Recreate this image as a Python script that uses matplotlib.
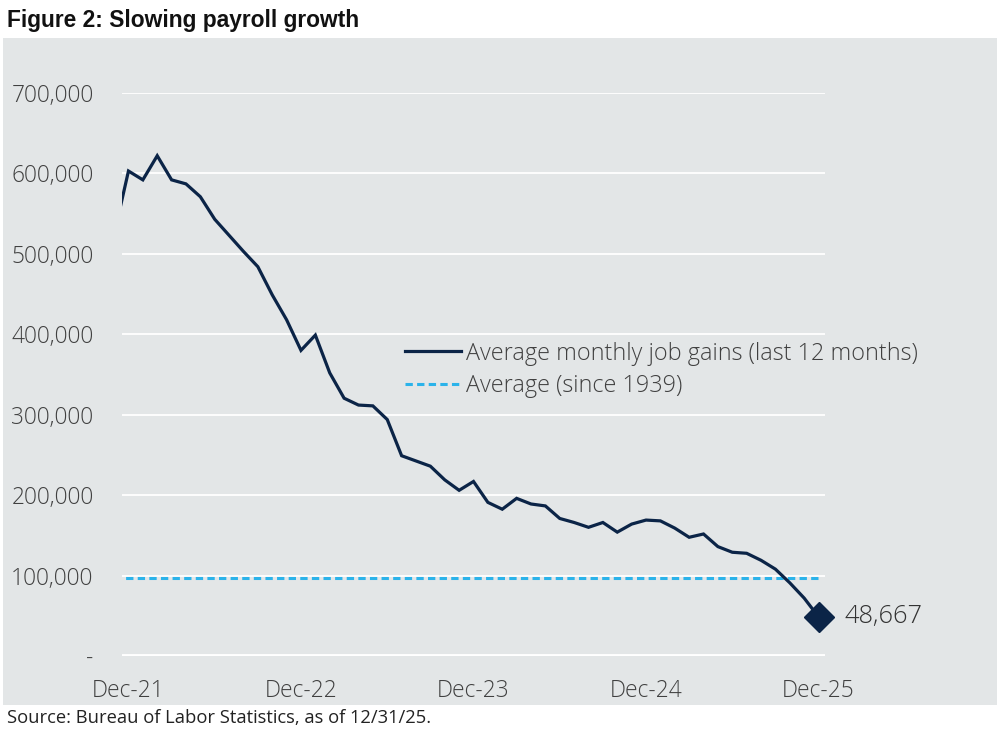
import numpy as np
import matplotlib
matplotlib.use("Agg")
import matplotlib.pyplot as plt
from matplotlib.patches import Rectangle
from matplotlib.ticker import FuncFormatter

# 12-month average of monthly payroll gains, Nov-21 .. Dec-25 (first point falls off the left edge)
job_gains = [524000, 603000, 592000, 622000, 592000, 587000, 571000, 543000, 523000, 503000,
             484000, 449000, 418000, 380000, 399000, 352000, 320500, 312000, 311000, 294000,
             249000, 242500, 236000, 219000, 206000, 217000, 191000, 182500, 196000, 189000,
             186600, 171000, 166000, 160000, 166000, 154000, 164000, 169000, 168000, 159000,
             147600, 151700, 136000, 129000, 127700, 119000, 108000, 91000, 72000, 48667]
long_run_avg = 97000
tick_labels = ["Dec-21", "Dec-22", "Dec-23", "Dec-24", "Dec-25"]
y_ticks = [0, 100000, 200000, 300000, 400000, 500000, 600000, 700000]

navy = "#0b2447"
sky = "#2bb3ea"
panel = "#e3e6e7"
grey_txt = "#404040"

x = np.arange(len(job_gains)) - 1  # index 0 = Dec-21

fig = plt.figure(figsize=(10, 7.31), dpi=100)
fig.patches.append(Rectangle((0.003, 1 - 705 / 731), 0.994, (705 - 38) / 731,
                             transform=fig.transFigure, facecolor=panel, edgecolor="none", zorder=-5))

ax = fig.add_axes([0.122, 75 / 731, 0.703, 563 / 731])
ax.set_facecolor("none")

ax.plot(x, job_gains, color=navy, lw=2.3, solid_joinstyle="miter", zorder=4,
        label="Average monthly job gains (last 12 months)")
ax.plot(x, [long_run_avg] * len(x), color=sky, lw=2.2, dashes=(2.4, 1.4), zorder=3,
        label="Average (since 1939)")
ax.plot(x[-1], job_gains[-1], marker="D", ms=15, color=navy, zorder=5, clip_on=False)
ax.annotate(f"{job_gains[-1]:,}", (x[-1], job_gains[-1]), xytext=(19, 0), textcoords="offset points",
            va="center", ha="left", fontsize=18.4, color="#333333", family="Open Sans", fontweight="light",
            annotation_clip=False)

ax.set_xlim(-0.45, 48.45)
ax.set_ylim(0, 700000)
ax.set_yticks(y_ticks)
ax.yaxis.set_major_formatter(FuncFormatter(lambda v, p: "-" if v == 0 else f"{v:,.0f}"))
ax.set_xticks(np.arange(0, 49, 12))
ax.set_xticklabels(tick_labels)

ax.grid(axis="y", color="white", lw=1.3, zorder=1)
ax.axhline(0, color="white", lw=3.5, zorder=2)
for s in ax.spines.values():
    s.set_visible(False)
ax.tick_params(length=0, labelsize=16.4, labelcolor=grey_txt)
ax.tick_params(axis="y", pad=20.5)
ax.tick_params(axis="x", pad=16.5)
for lab in ax.get_xticklabels() + ax.get_yticklabels():
    lab.set_family("Open Sans")
    lab.set_fontweight("light")

leg = ax.legend(loc="center left", bbox_to_anchor=((405 - 122) / 703, (656 - 370) / 563),
                frameon=False, borderpad=0, borderaxespad=0, handlelength=2.4, handletextpad=0.22,
                labelspacing=0.38, prop={"family": "Open Sans", "weight": "light", "size": 16.8})
for t in leg.get_texts():
    t.set_color(grey_txt)

fig.text(0.007, 1 - 20 / 731, "Figure 2: Slowing payroll growth", fontsize=16.4, fontweight="bold",
         family="Liberation Sans", color="#111111", va="center", ha="left")
fig.text(0.007, 1 - 718 / 731, "Source: Bureau of Labor Statistics, as of 12/31/25.", fontsize=13.25,
         family="Open Sans", color="#222222", va="center", ha="left")

fig.savefig("out.png", dpi=100)
